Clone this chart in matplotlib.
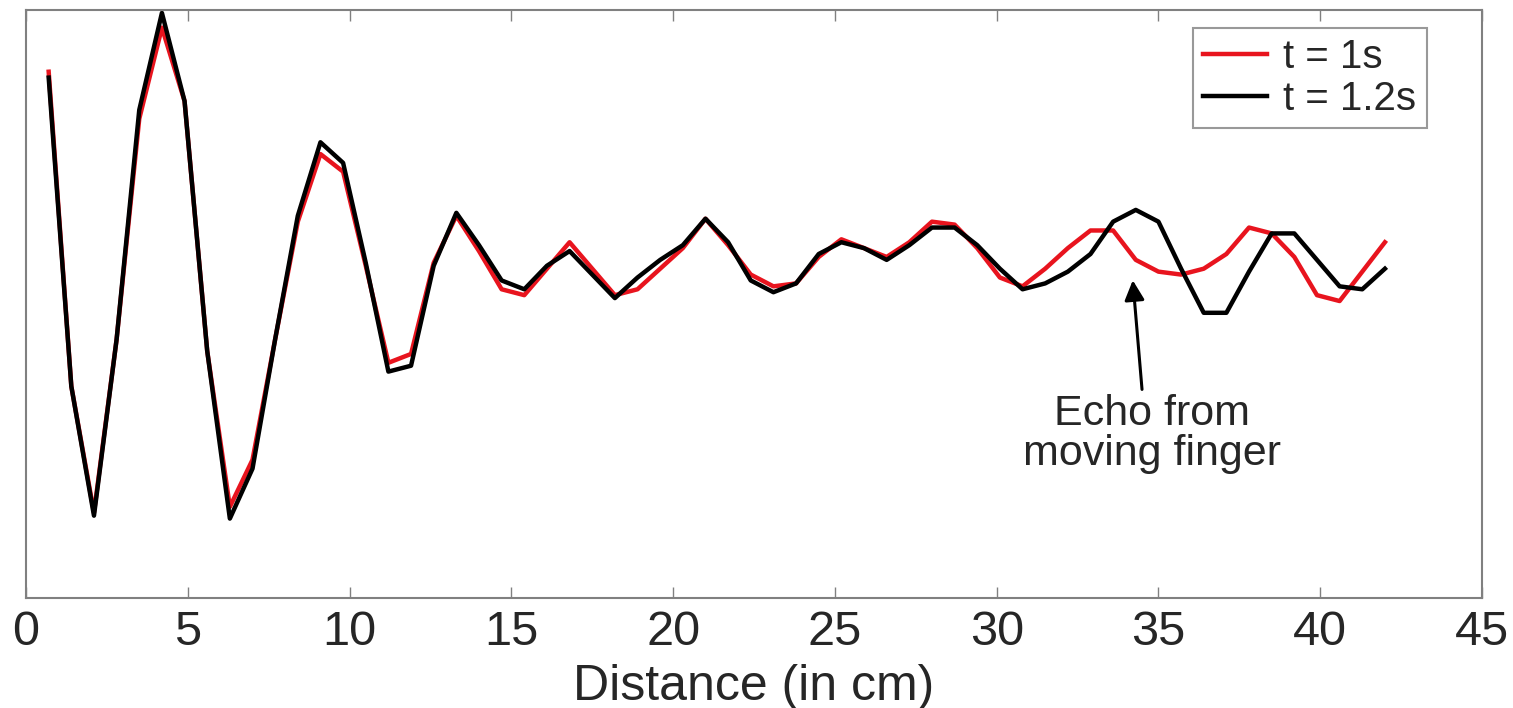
import matplotlib
matplotlib.use("Agg")
import matplotlib.pyplot as plt
import numpy as np

plt.rcParams["font.family"] = ["Liberation Sans", "DejaVu Sans"]

# sample positions along the path (cm)
distance = np.round(np.arange(1, 61) * 0.7, 1)

# received profile at t = 1 s (arbitrary units)
profile_t1 = [
    79, -28, -71, -12, 63, 94, 69, -16, -69, -53,
    -12, 28, 51, 45, 13, -20, -17, 14, 30, 18,
    5, 3, 12, 21, 12, 3, 5, 12, 19, 29,
    20, 10, 6, 7, 16, 22, 19, 16, 21, 28,
    27, 19, 9, 6, 12, 19, 25, 25, 15, 11,
    10, 12, 17, 26, 24, 16, 3, 1, 11, 21,
]

# received profile at t = 1.2 s
profile_t12 = [
    77, -28, -72, -12, 66, 99, 69, -16, -73, -56,
    -12, 30, 55, 48, 14, -23, -21, 13, 31, 20,
    8, 5, 13, 18, 10, 2, 9, 15, 20, 29,
    21, 8, 4, 7, 17, 21, 19, 15, 20, 26,
    26, 20, 12, 5, 7, 11, 17, 28, 32, 28,
    12, -3, -3, 11, 24, 24, 15, 6, 5, 12,
]

fig = plt.figure(figsize=(15.13, 7.08), dpi=100)
ax = fig.add_axes([0.0172, 0.1554, 0.9623, 0.8305])

ax.plot(distance, profile_t1, color="#e8141e", linewidth=3.2, label="t = 1s")
ax.plot(distance, profile_t12, color="black", linewidth=3.2, label="t = 1.2s")

ax.set_xlim(0, 45)
ax.set_ylim(-100, 100)
ax.set_xticks(np.arange(0, 46, 5))
ax.set_yticks([])
ax.tick_params(axis="x", direction="in", length=8, width=1, colors="#808080",
               labelcolor="#262626", labelsize=35, pad=9, top=True)
for spine in ax.spines.values():
    spine.set_color("#808080")
    spine.set_linewidth(1.5)

ax.set_xlabel("Distance (in cm)", fontsize=36, color="#262626", labelpad=6)

leg = ax.legend(loc="upper right", bbox_to_anchor=(0.962, 0.97), fontsize=29,
                frameon=True, fancybox=False, handlelength=1.6, handletextpad=0.4,
                borderpad=0.25, labelspacing=0.1, borderaxespad=0)
leg.get_frame().set_edgecolor("#808080")
leg.get_frame().set_linewidth(1.5)
for t in leg.get_texts():
    t.set_color("#262626")

ax.annotate("", xy=(34.2, 9), xytext=(34.5, -30),
            arrowprops=dict(arrowstyle="-|>", color="black", lw=2.2, mutation_scale=30))
ax.text(34.8, -30.5, "Echo from\nmoving finger", ha="center", va="top",
        fontsize=31, color="#262626", linespacing=1.0)

fig.savefig("out.png", dpi=100)
